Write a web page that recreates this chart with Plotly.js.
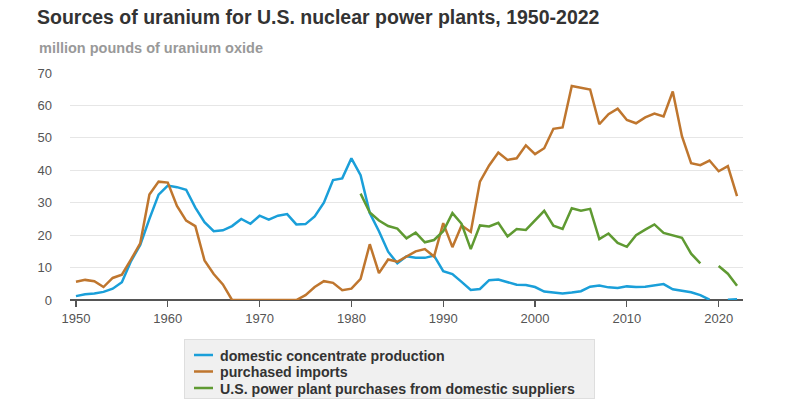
<!DOCTYPE html>
<html>
<head>
<meta charset="utf-8">
<script src="https://cdn.plot.ly/plotly-3.0.1.min.js"></script>
<style>
html,body{margin:0;padding:0;background:#fff;}
#chart{width:788px;height:417px;}
</style>
</head>
<body>
<div id="chart"></div>
<script>
const years = [];
for (let y = 1950; y <= 2022; y++) years.push(y);

const domesticProduction = [
  1.2, 1.8, 2.0, 2.5, 3.5, 5.5, 12, 17, 25, 32.5,
  35.3, 34.8, 34, 28.5, 24, 21.2, 21.5, 22.8, 25, 23.5,
  26, 24.8, 26, 26.5, 23.3, 23.4, 25.8, 30, 37, 37.5,
  43.7, 38.5, 26.8, 21.2, 14.9, 11.3, 13.5, 13, 13, 13.7,
  8.9, 8, 5.6, 3.1, 3.4, 6.1, 6.3, 5.6, 4.7, 4.6,
  4, 2.6, 2.3, 2, 2.3, 2.7, 4.1, 4.5, 3.9, 3.7,
  4.2, 4, 4.1, 4.6, 4.9, 3.3, 2.9, 2.4, 1.5, 0.1,
  null, 0.1, 0.2
];

const purchasedImports = [
  5.6, 6.2, 5.8, 4.0, 6.8, 7.8, 12.5, 17.5, 32.5, 36.5,
  36.2, 29, 24.5, 22.8, 12.2, 8, 4.8, 0, 0, 0,
  0, 0, 0, 0, 0, 1.5, 4, 5.8, 5.3, 3,
  3.5, 6.5, 17.2, 8.3, 12.5, 11.8, 13.5, 15, 15.7, 13.4,
  23.7, 16.3, 23, 21, 36.5, 41.5, 45.5, 43.2, 43.7, 47.7,
  45, 46.8, 52.8, 53.2, 66, 65.5, 64.9, 54.2, 57.3, 59,
  55.5, 54.5, 56.3, 57.5, 56.6, 64.3, 50.5, 42.2, 41.6, 43,
  39.7, 41.3, 32
];

const domesticSuppliers = [
  null, null, null, null, null, null, null, null, null, null,
  null, null, null, null, null, null, null, null, null, null,
  null, null, null, null, null, null, null, null, null, null,
  null, 32.8, 27, 24.5, 22.8, 22, 19, 20.8, 17.8, 18.5,
  21.2, 26.8, 23.5, 15.7, 23, 22.7, 23.8, 19.6, 21.9, 21.6,
  24.7, 27.5, 22.9, 21.9, 28.3, 27.5, 28.1, 18.8, 20.5, 17.6,
  16.4, 20, 21.7, 23.3, 20.7, 20, 19.2, 14.3, 11.3, null,
  10.5, 8.1, 4.4
];

const seriesNames = [
  'domestic concentrate production',
  'purchased imports',
  'U.S. power plant purchases from domestic suppliers'
];
const seriesColors = ['#1a9fd9', '#bf762e', '#5f9a32'];
const xTicks = [1950, 1960, 1970, 1980, 1990, 2000, 2010, 2020];
const yTicks = [0, 10, 20, 30, 40, 50, 60, 70];

const font = 'Liberation Sans, Arial, Helvetica, sans-serif';

const data = [domesticProduction, purchasedImports, domesticSuppliers].map((vals, i) => ({
  type: 'scatter',
  mode: 'lines',
  x: years,
  y: vals,
  name: seriesNames[i],
  line: {color: seriesColors[i], width: 2.5},
  connectgaps: false,
  hoverinfo: 'x+y+name'
}));

const layout = {
  width: 788,
  height: 417,
  margin: {l: 70, r: 45, t: 73, b: 117, autoexpand: false},
  paper_bgcolor: '#fff',
  plot_bgcolor: '#fff',
  font: {family: font, color: '#333'},
  title: {
    text: '<b>Sources of uranium for U.S. nuclear power plants, 1950-2022</b>',
    font: {family: font, size: 19.5, color: '#333'},
    xref: 'container', yref: 'container',
    x: 37/788, xanchor: 'left',
    y: 1 - 17/417, yanchor: 'middle'
  },
  annotations: [{
    text: '<b>million pounds of uranium oxide</b>',
    xref: 'paper', yref: 'paper',
    x: -33/673, xanchor: 'left',
    y: 1 + (73-48)/227, yanchor: 'middle',
    showarrow: false,
    font: {family: font, size: 14.5, color: '#999'}
  }],
  xaxis: {
    range: [1949.35, 2022.65],
    tickvals: xTicks,
    ticktext: xTicks.map(String),
    ticks: 'outside',
    ticklen: 6,
    tickcolor: '#555',
    tickwidth: 1.2,
    showgrid: false,
    zeroline: false,
    showline: false,
    tickfont: {family: font, size: 13, color: '#555'},
    fixedrange: true
  },
  yaxis: {
    range: [0, 70],
    tickvals: yTicks,
    ticktext: yTicks.map(String),
    ticks: '',
    ticklabelstandoff: 17,
    showgrid: true,
    gridcolor: '#e6e6e6',
    gridwidth: 1,
    zeroline: true,
    zerolinecolor: '#555',
    zerolinewidth: 1.5,
    showline: false,
    tickfont: {family: font, size: 13, color: '#555'},
    fixedrange: true
  },
  showlegend: true,
  legend: {
    orientation: 'v',
    x: (184-70)/673, xanchor: 'left',
    y: (300-339)/227, yanchor: 'top',
    bgcolor: '#f0f0f0',
    bordercolor: '#dedede',
    borderwidth: 1,
    font: {family: font, size: 14.2, color: '#333', weight: 'bold'},
    itemwidth: 30,
    tracegroupgap: 0
  }
};

Plotly.newPlot('chart', data, layout, {displayModeBar: false, staticPlot: true}).then(() => {
  // tighten legend rows and glyphs to match the compact reference legend
  const leg = document.querySelector('.legend');
  if (!leg) return;
  const items = leg.querySelectorAll('.traces');
  items.forEach((g, i) => {
    g.setAttribute('transform', 'translate(1,' + (16 + 16.5 * i) + ')');
    g.querySelectorAll('.legendlines path').forEach(p => p.setAttribute('d', 'M9,0h19'));
    const t = g.querySelector('.legendtext');
    if (t) {
      t.setAttribute('x', 35);
      t.querySelectorAll('tspan').forEach(s => { if (s.hasAttribute('x')) s.setAttribute('x', 35); });
    }
    const r = g.querySelector('.legendtoggle');
    if (r) r.setAttribute('height', 16.5);
  });
  const bg = leg.querySelector('.bg');
  if (bg) { bg.setAttribute('width', 410); bg.setAttribute('height', 59); }
});
</script>
</body>
</html>
